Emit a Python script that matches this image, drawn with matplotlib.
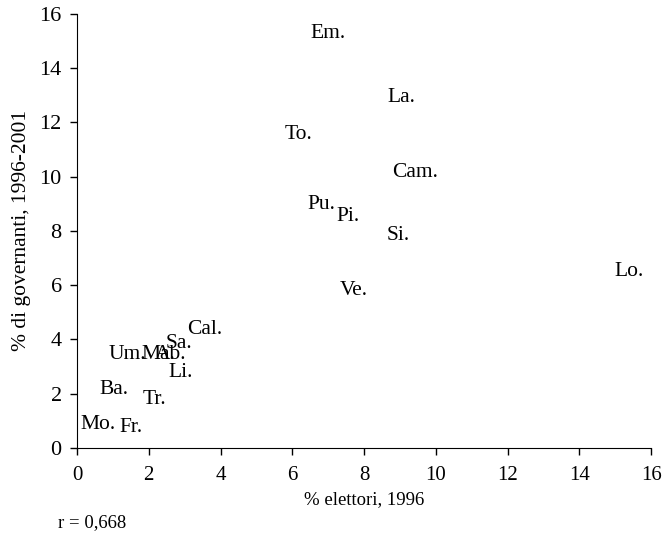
import matplotlib
matplotlib.use('Agg')
from matplotlib import pyplot as plt

regioni = ['Em.', 'La.', 'To.', 'Cam.', 'Pu.', 'Pi.', 'Si.', 'Lo.', 'Ve.', 'Cal.',
           'Sa.', 'Ab.', 'Ma.', 'Um.', 'Li.', 'Ba.', 'Tr.', 'Mo.', 'Fr.']
elettori = [7.0, 9.05, 6.16, 9.41, 6.82, 7.55, 8.94, 15.38, 7.72, 3.57,
            2.84, 2.6, 2.26, 1.40, 2.90, 1.04, 2.17, 0.59, 1.50]
governanti = [15.28, 12.9, 11.55, 10.15, 8.97, 8.52, 7.82, 6.49, 5.79, 4.35,
              3.87, 3.43, 3.43, 3.43, 2.77, 2.14, 1.77, 0.85, 0.74]

plt.rcParams['font.family'] = ['Liberation Serif', 'DejaVu Serif']

fig = plt.figure(figsize=(6.66, 5.34), dpi=100)
ax = fig.add_axes([0.1156, 0.161, 0.862, 0.813])

for nome, x, y in zip(regioni, elettori, governanti):
    ax.text(x, y, nome, fontsize=15.5, ha='center', va='center')

ax.set_xlim(0, 16)
ax.set_ylim(0, 16)
ax.set_xticks(range(0, 17, 2))
ax.set_yticks(range(0, 17, 2))
ax.spines['top'].set_visible(False)
ax.spines['right'].set_visible(False)
ax.tick_params(direction='out', length=5, width=1)
ax.tick_params(axis='x', labelsize=15, pad=8)
ax.tick_params(axis='y', labelsize=16, pad=6)
ax.set_xlabel('% elettori, 1996', fontsize=13.5)
ax.set_ylabel('% di governanti, 1996-2001', fontsize=15.5)
ax.xaxis.set_label_coords(0.5, -0.1)
ax.yaxis.set_label_coords(-0.08, 0.5)

fig.text(0.087, 0.012, 'r = 0,668', fontsize=13.5, ha='left')

plt.savefig('out.png')
